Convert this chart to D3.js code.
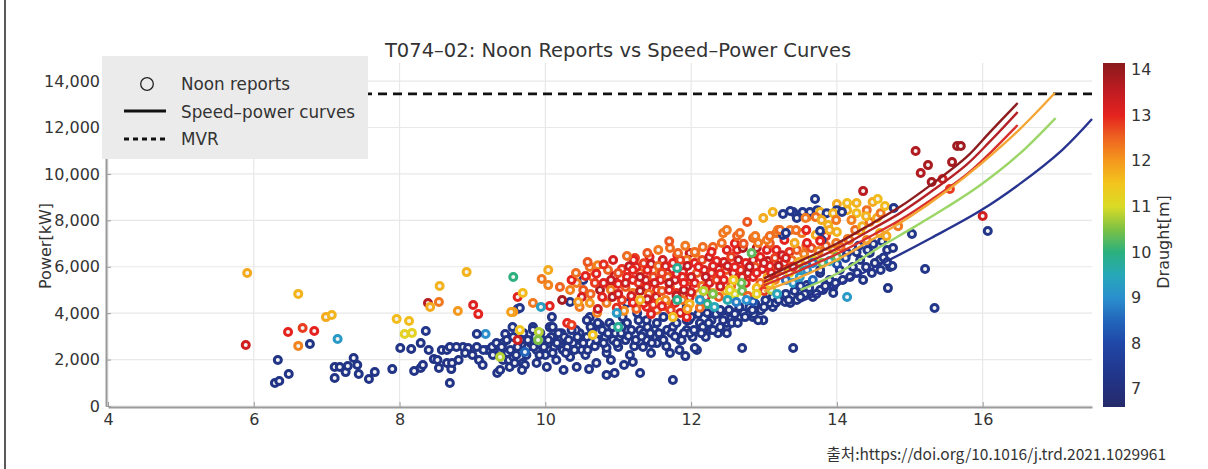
<!DOCTYPE html>
<html><head><meta charset="utf-8">
<script src="https://cdn.jsdelivr.net/npm/d3@7"></script>
<style>
body{margin:0;background:#fff;}
svg{display:block;}
text{font-family:"DejaVu Sans","Noto Sans CJK KR",sans-serif;fill:#333;}
</style>
</head><body>
<svg id="chart" width="1208" height="469"></svg>
<script>
// ---------- DATA ----------
const chartTitle = "T074\u201302: Noon Reports vs Speed\u2013Power Curves";
const xTicks = [4, 6, 8, 10, 12, 14, 16];
const yTicks = [0, 2000, 4000, 6000, 8000, 10000, 12000, 14000];
const draughtTicks = [7, 8, 9, 10, 11, 12, 13, 14];
const mvrPower = 13450;
const sourceText = "출처:https://doi.org/10.1016/j.trd.2021.1029961";

// speed-power curves: [speed (kn), power (kW)], one per draught
const curveDraughts = [14, 13.5, 13, 12, 10.5, 7.5];
const curveD14 = [[13.0,5500],[13.5,6250],[14.0,7000],[14.5,7900],[14.86,8570],[15.3,9550],[15.78,10730],[16.1,11800],[16.48,13055]];
const curveD135 = [[13.0,5350],[13.5,6050],[14.0,6780],[14.5,7650],[14.86,8300],[15.3,9250],[15.78,10400],[16.1,11400],[16.48,12667]];
const curveD13 = [[13.0,5200],[13.5,5850],[14.0,6550],[14.5,7380],[14.86,8000],[15.3,8900],[15.78,9980],[16.1,10900],[16.48,12107]];
const curveD12 = [[13.0,4950],[13.5,5550],[14.0,6300],[14.59,7370],[15.0,8150],[15.5,9250],[16.0,10500],[16.5,11900],[16.99,13486]];
const curveD105 = [[13.5,5000],[14.0,5700],[14.59,6850],[15.0,7600],[15.5,8550],[15.96,9500],[16.5,10850],[17.0,12408]];
const curveD75 = [[13.5,4500],[14.0,5200],[14.69,6250],[15.3,7250],[15.96,8400],[16.5,9550],[17.09,11030],[17.5,12365]];

// noon reports: [speed (kn), power (kW), draught (m)]
const reportsLowSpeed = [
[5.91,5730,11.8],[5.89,2630,13.3],[6.61,4830,11.7],[6.47,3190,13.0],[6.61,2590,12.2],[6.67,3360,12.8],[6.83,3230,13.0],[6.99,3830,11.8],[7.07,3920,11.7],[7.15,2890,9.2],[6.77,2670,7.2],
[6.33,1980,7.2],[6.29,990,7.2],[6.35,1080,7.2],[6.48,1380,7.2],[7.11,1680,7.2],[7.18,1680,7.2],[7.26,1460,7.2],[7.29,1720,7.2],[7.37,2070,7.2],[7.42,1770,7.2],[7.11,1210,7.2],[7.44,1380,7.2],[7.58,1160,7.2],[7.66,1460,7.2],[7.90,1590,7.2],
[7.96,3750,11.6],[8.13,3660,11.6],[8.07,3100,11.2],[8.17,3150,11.2],[8.36,3230,7.3],[8.01,2500,7.2],[8.16,2460,7.2],[8.29,2710,7.2],[8.40,2410,7.2],[8.20,1510,7.2],[8.29,1640,7.2],[8.32,1770,7.2],[8.47,2020,7.2],[8.52,1980,7.2],[8.54,1640,7.2],[8.65,1850,7.2],[8.69,990,7.2],[8.71,1590,7.2],[8.58,2410,7.2],
[8.39,4440,13.6],[8.42,4270,11.8],[8.54,4480,12.3],[8.55,5170,11.7],[8.92,5770,11.7],[8.80,4090,12.0],[9.01,4350,13.1],[9.08,3960,13.0],[9.18,3100,9.0],[9.06,3100,7.3],
[8.65,2410,7.2],[8.69,2540,7.2],[8.72,1850,7.2],[8.81,1980,7.2],[8.87,2540,7.2],[8.94,2500,7.2],[9.06,2540,7.2],[9.09,1980,7.2],[9.14,1770,7.2],[9.20,2410,7.2],[9.27,2540,7.2],[9.00,2200,7.2],[8.90,2280,7.2],[8.78,2540,7.2],[9.15,2410,7.3],[9.28,2200,7.2]
];
const reportsBlueBand = [
[9.34,1420,7.2],[9.38,2410,7.2],[9.42,1980,7.2],[9.50,1980,7.2],[9.56,2110,7.2],[9.65,2410,7.2],[9.69,1850,7.2],[9.76,2540,7.2],[9.38,1550,7.2],[9.51,1680,7.2],[9.72,1770,7.2],[9.88,1850,7.2],[10.02,1680,7.2],[10.06,2410,7.2],[10.06,3400,7.2],[10.23,2840,7.2],[10.24,2410,7.2],[10.43,1680,7.2],[10.50,2410,7.2],[10.57,2970,7.2],[10.61,3830,7.2],[10.75,3490,7.2],[10.75,2840,7.2],[10.84,2280,7.2],[10.93,2840,7.2],[11.06,3830,7.2],[10.84,1340,7.2],[10.95,1420,7.2],[11.08,1770,7.2],[11.16,2200,7.2],[11.30,1420,7.2],[11.34,2540,7.2],[11.43,2970,7.2],[11.53,3580,7.2],[11.67,3270,7.2],[11.71,2280,7.2],[11.75,1120,7.2],[11.85,2840,7.2],[11.94,3270,7.2],[12.02,2970,7.2],[12.08,2410,7.2],
[9.42,2710,7.2],[9.56,2970,7.2],[9.83,3400,7.2],[9.93,3140,7.2],[10.10,3400,7.2],[10.20,2840,7.2],[10.30,2540,7.2],[10.34,2110,7.2],[10.47,3140,7.2],[10.57,3700,7.2],[10.65,3360,7.2],[10.84,2500,7.2],[11.02,2970,7.2],[11.12,3580,7.2],[11.26,4010,7.2],[11.30,3270,7.2],[11.39,2840,7.2],[11.53,2710,7.2],[11.75,3400,7.2],[11.87,2840,7.2],[11.94,3700,7.2],[12.05,2500,7.2],[12.12,3580,7.2],[12.26,3270,7.2],[12.37,3140,7.2],[12.49,3400,7.2],[12.22,4010,7.2],[12.57,4010,7.2],[12.70,2500,7.2],[12.85,3830,7.2],[12.99,3700,7.2],[13.12,4270,7.2],[13.29,4480,7.2],[13.40,2500,7.2],[13.49,4870,7.2],[13.67,4700,7.2],[13.81,5000,7.2],[13.95,5130,7.2],
[14.70,5080,7.2],[13.95,4870,7.2],[13.77,5000,7.2],[13.59,5210,7.2],[13.45,4570,7.2],[13.36,4440,7.2],[13.22,4700,7.2],[13.08,4440,7.2],[12.94,4140,7.2],[12.92,3700,7.2],[12.78,4010,7.2],[12.67,3830,7.2],[12.49,3580,7.2],[12.30,3270,7.2],[11.98,3140,7.2],[12.49,3140,7.2],[13.77,5730,7.2],[13.90,5430,7.2],[14.04,5860,7.2],[14.22,5990,7.2],[14.32,6290,7.2],[14.36,5430,7.2],[14.27,6630,7.2],[14.14,6590,7.2],[14.45,6590,7.2],[14.69,6720,7.2],[14.77,6810,7.2],[14.59,6290,7.2],[14.73,5990,7.2],[14.48,5730,7.2],[13.77,5860,7.3],
[9.80,2710,7.2],[9.88,2410,7.3],[9.95,2840,7.2],[10.00,2200,7.3],[10.08,2970,7.2],[10.12,2540,7.2],[10.15,1980,7.3],[10.22,3140,7.2],[10.28,2280,7.2],[10.38,2710,7.3],[10.42,3270,7.2],[10.48,2840,7.2],[10.55,2200,7.3],[10.62,3400,7.2],[10.68,2580,7.2],[10.70,1850,7.2],[10.78,3270,7.3],[10.82,2970,7.2],[10.88,3580,7.2],[10.96,3140,7.2],[11.00,2540,7.3],[11.05,3400,7.2],[11.10,2840,7.2],[11.18,3270,7.2],[11.22,2580,7.2],[11.28,3700,7.3],[11.35,3140,7.2],[11.40,3400,7.2],[11.46,2710,7.2],[11.50,3270,7.3],[11.58,2970,7.2],[11.62,3830,7.2],[11.66,2580,7.2],[11.73,3140,7.2],[11.80,3580,7.3],[11.84,2410,7.2],[11.90,3140,7.2],[11.97,3700,7.2],[12.04,3270,7.3],[12.10,3960,7.2],[12.16,3400,7.2],[12.20,2970,7.2],[12.28,3700,7.2],[12.34,3960,7.3],[12.40,3400,7.2],[12.46,3830,7.2],[12.52,4140,7.2],[12.56,3580,7.3],[12.60,3960,7.2],[12.66,4270,7.2],[12.72,4010,7.2],[12.80,4270,7.3],[12.86,3960,7.2],[12.88,4400,7.2],[12.96,4140,7.2],[13.02,4570,7.3],[13.12,4700,7.2],[13.16,4440,7.2],[13.30,4830,7.3],[13.34,4570,7.2],[13.42,4960,7.2],[13.56,4830,7.2],[13.62,5080,7.3],[13.72,4830,7.2],[13.84,5170,7.2],[13.98,5300,7.3],[14.08,5430,7.2],[14.18,5560,7.2],[14.28,5730,7.3],[14.40,5990,7.2],[14.52,6160,7.2],[14.60,5860,7.3],
[9.45,3100,7.2],[9.55,3400,7.3],[9.62,2540,7.2],[9.70,3140,7.2],[9.76,2840,7.2],[9.33,2710,7.2],[9.48,2280,7.2],[9.58,1850,7.2],[9.68,1550,7.2],[10.25,1550,7.2],[10.60,1590,7.3],[10.90,1980,7.2],[11.20,1900,7.2],[11.45,2280,7.2],[11.92,2150,7.2],
[9.62,4180,7.2],[10.09,3830,7.2],[9.83,3270,7.2],[9.47,2840,7.2],[9.65,4220,7.3],[10.34,4480,7.3],[10.52,5430,7.3],[11.12,4440,7.3],[11.39,3700,7.2],[12.40,4140,7.2],[12.00,3830,7.2],[11.94,4270,7.2],[14.30,6900,7.4],[14.42,6720,7.3],[14.50,6980,7.3],[14.62,7100,7.3],[14.12,6380,7.8],[14.00,6120,8.0],
[9.40,2540,7.2],[9.52,2410,7.2],[9.60,2200,7.2],[9.66,2840,7.2],[9.74,2200,7.2],[9.84,2540,7.2],[9.86,2970,7.2],[9.92,2200,7.2],[9.98,2540,7.2],[10.04,2840,7.2],[10.10,2280,7.2],[10.16,2710,7.2],[10.18,3140,7.2],[10.26,2970,7.2],[10.32,2840,7.2],[10.36,3270,7.2],[10.40,2410,7.2],[10.44,2970,7.2],[10.52,2710,7.2],[10.58,2410,7.2],[10.64,3140,7.2],[10.70,2840,7.2],[10.72,3580,7.2],[10.80,2710,7.2],[10.86,3140,7.2],[10.92,3400,7.2],[10.98,2710,7.2],[11.04,3140,7.2],[11.14,3020,7.2],[11.24,2840,7.2],[11.32,3000,7.2],[11.44,3140,7.2],[11.56,3140,7.2],[11.62,2840,7.2],[11.78,3000,7.2],[12.14,3140,7.2],[12.24,3580,7.2],[12.44,3700,7.2],[12.64,3580,7.2],[12.74,3830,7.2],[12.84,4140,7.2],[13.00,4270,7.2],[13.20,4570,7.2],[13.50,4700,7.2]
];
const reportsCore = [
[10.61,5990,12.4],[10.72,6070,12.2],[10.93,6290,13.2],[11.23,6380,12.8],[11.43,6420,13.0],[11.61,6290,13.3],[11.81,6500,13.0],[11.98,6590,13.4],[11.71,6810,12.4],[10.65,5560,12.5],[10.43,5300,12.3],[10.52,5000,12.6],[10.34,5000,12.2],[10.75,5000,13.8],[10.89,5130,13.1],[11.12,5560,13.0],[11.30,5730,12.4],[11.48,5860,12.2],[11.67,5730,13.2],[11.89,5770,13.0],[11.39,5130,13.1],[11.53,5000,12.9],[11.71,5130,12.5],[11.94,5130,13.4],[11.20,4870,12.3],[10.84,4440,12.3],[10.61,4440,12.0],[10.47,4270,12.3],[10.71,4010,12.2],[11.39,4270,13.0],[11.53,4140,12.4],[11.67,4270,12.3],[11.98,4700,13.1],[11.94,3830,13.0],
[9.95,5470,12.3],[10.04,5210,12.2],[9.62,4700,13.0],[9.83,4440,12.3],[10.06,4310,13.0],[10.23,4570,13.8],[9.56,4050,12.0],[10.20,5130,12.5],[10.36,5430,13.0],[9.62,2840,13.3],[10.30,3580,13.0],[10.36,3490,12.8],
[11.21,6290,13.0],[11.94,6290,12.3],[12.06,6590,12.2],[12.16,6850,12.4],[12.30,6850,12.5],[12.49,6720,13.1],[12.63,6720,13.0],[12.71,6810,13.7],[12.90,6810,13.6],[13.04,6720,13.1],[13.17,6720,13.0],[13.17,7450,12.4],
[10.42,5730,12.4],[10.55,5600,13.0],[10.68,5300,12.8],[10.50,4700,13.2],[10.62,4830,12.5],[10.78,4700,13.0],[10.45,4480,12.0],[10.72,4180,13.4],[10.80,5300,13.1],[10.58,6200,12.6],
[10.86,5860,12.5],[10.95,5600,13.3],[11.05,5900,12.9],[11.15,6020,13.5],[10.90,5000,12.3],[11.00,5260,13.0],[11.10,5130,12.6],[11.18,4740,13.2],[11.05,4570,12.8],[10.92,4700,13.6],[11.08,4100,12.1],[11.20,5430,13.0],[11.12,6460,12.4],[10.98,4230,12.9],
[11.25,5990,13.1],[11.35,6150,12.8],[11.45,6120,13.4],[11.55,6030,12.5],[11.28,5300,12.9],[11.38,5430,13.3],[11.48,5560,12.7],[11.58,5430,13.0],[11.30,4960,13.6],[11.42,4830,12.4],[11.52,4700,13.2],[11.60,4960,12.6],[11.35,4430,13.0],[11.48,4360,12.9],[11.58,4480,11.8],[11.25,4180,12.5],[11.45,3960,13.1],[11.55,6720,12.3],[11.40,6590,12.6],
[11.65,6020,13.2],[11.75,6160,13.0],[11.85,6290,12.8],[11.95,6030,13.5],[11.68,5560,12.6],[11.78,5430,13.3],[11.88,5560,13.0],[11.98,5430,12.5],[11.70,5000,13.1],[11.80,4870,12.9],[11.90,5000,13.6],[11.65,4570,12.2],[11.78,4440,13.0],[11.88,4570,12.4],[11.98,4400,11.7],[11.72,4140,12.8],[11.85,4010,13.2],[11.95,4180,12.0],[11.82,6590,12.5],[11.92,6900,12.3],[11.70,7100,12.6],
[12.05,6160,13.1],[12.15,6290,12.7],[12.25,6420,13.4],[12.35,6250,13.0],[12.08,5730,12.6],[12.18,5860,13.2],[12.28,5730,12.9],[12.38,5900,13.5],[12.05,5300,13.0],[12.15,5170,12.4],[12.25,5300,13.3],[12.35,5430,12.8],[12.10,4830,12.2],[12.20,4700,13.0],[12.30,4870,11.9],[12.38,4700,12.6],[12.22,4400,10.0],[12.32,4270,9.5],[12.12,4230,12.4],[12.05,6640,12.4],[12.28,6640,13.0],
[12.45,6200,13.2],[12.55,6420,12.8],[12.65,6290,13.5],[12.75,6160,13.0],[12.48,5860,12.6],[12.58,5730,13.3],[12.68,5860,12.9],[12.78,5730,13.6],[12.45,5430,13.0],[12.55,5170,12.4],[12.65,5430,12.2],[12.75,5300,13.1],[12.48,4960,11.8],[12.60,4830,11.0],[12.70,4960,10.4],[12.78,4740,12.5],[12.50,4570,9.6],[12.62,4480,8.8],[12.42,7020,12.4],[12.60,7000,13.0],[12.72,6990,12.6],
[12.85,6290,13.3],[12.95,6420,13.0],[13.05,6250,13.6],[13.15,6380,12.8],[12.88,5990,12.6],[12.98,5900,13.2],[13.08,6030,13.0],[13.18,5860,12.4],[12.85,5560,13.1],[12.95,5300,12.5],[13.05,5560,11.9],[13.15,5430,12.2],[12.90,5080,11.6],[13.00,4960,12.8],[13.10,5000,10.8],[13.18,4830,9.4],[12.92,7020,12.3],[13.08,7000,12.6],[12.85,4500,8.2],
[13.25,6500,13.4],[13.35,6640,12.9],[13.45,6720,12.6],[13.55,6550,12.3],[13.28,6160,13.0],[13.38,6290,12.4],[13.48,6200,11.8],[13.58,6290,12.0],[13.25,5860,12.5],[13.35,5730,11.3],[13.45,5900,10.6],[13.55,5820,9.8],[13.30,5430,8.6],[13.40,5300,9.2],[13.50,5170,7.6],[13.58,6900,12.4],[13.42,7020,11.8],[13.28,7150,13.0],
[13.65,6810,12.7],[13.75,6680,12.2],[13.85,6900,12.5],[13.95,6720,11.9],[14.05,6860,12.4],[13.68,6290,11.2],[13.80,6160,10.5],[13.90,6250,9.6],[14.15,7200,12.3],[14.00,7500,11.7],[13.85,7320,12.8],
[10.70,5700,13.0],[10.80,6100,12.9],[10.90,5430,13.4],[11.00,5730,12.7],[11.10,5300,13.3],[11.20,5860,13.0],[11.30,5560,13.5],[11.40,5860,13.0],[11.50,5300,13.2],[11.60,5730,12.8],[11.70,5300,13.6],[11.80,5700,13.1],[11.90,5300,13.0],[12.00,5560,13.3],[12.10,5990,13.0],[12.20,5560,13.5],[12.30,6030,13.1],[12.40,5700,13.0],[12.50,6030,13.4],[12.60,5990,13.0],[12.70,5560,13.2],[12.80,6000,13.5],[12.90,5730,13.0],[13.00,6160,13.3],[13.10,5730,13.0],[13.20,6030,13.6],[13.30,6380,13.2],[13.40,6000,13.0],[11.00,4830,13.3],[11.20,4450,13.0],[11.40,4600,13.4],[11.60,4300,13.0],[11.80,4750,13.5],[12.00,4900,13.2],[12.20,5050,13.0],[12.40,5150,13.3]
];
const reportsAccent = [
[9.56,5560,10.0],[9.69,4870,11.6],[9.94,4270,9.3],[10.04,5860,11.8],[9.53,4050,11.9],[9.72,2330,8.5],
[9.65,3270,11.5],[9.91,3190,10.8],[9.90,2840,10.5],[9.38,2110,10.8],[10.65,3060,11.5],[11.00,3400,9.8],[10.98,4010,9.2],[11.30,4570,11.7],[11.81,4570,9.9],[11.75,3830,11.6],[11.81,5950,9.8],[12.83,6590,10.3],[12.12,4570,9.2],[12.30,4830,10.5],[12.53,5000,11.2],[12.69,5300,10.4],[12.76,4570,9.0],[12.90,4830,11.3],[12.58,5430,11.5],[12.17,4960,10.8],[13.08,5260,11.5],[13.67,5430,8.5],[13.49,5560,9.2],[14.00,6420,10.3],[13.59,5860,9.0],[13.67,6160,8.8],[14.14,4700,9.2]
];
const reportsUpper = [
[12.44,7450,12.3],[12.63,7320,12.5],[12.77,7930,12.6],[12.99,8100,11.8],[12.85,7240,12.4],[13.04,7150,12.3],[13.12,8360,11.7],[13.26,8270,7.3],[13.40,8360,7.3],[13.53,8360,7.3],[13.70,8920,7.3],[13.73,8440,7.3],[14.00,8700,11.8],[14.00,8440,7.3],[13.59,8140,12.3],[13.19,7580,12.3],[13.36,7580,12.3],[13.26,7370,7.3],[13.52,7450,12.3],[13.59,7020,13.0],[13.79,7150,7.3],
[14.36,9260,13.6],[14.14,8750,11.6],[14.27,8750,11.7],[14.49,8790,11.8],[14.56,8920,11.6],[14.41,8440,12.4],[14.14,8440,11.7],[14.27,8310,11.6],[13.36,8400,7.3],[13.63,8360,7.3],[13.77,8360,11.7],[13.86,8310,7.3],[13.95,8310,11.7],[14.07,8360,7.3],[13.45,8100,7.3],[13.57,8100,12.3],[13.71,8140,12.4],[13.79,8010,11.8],[13.88,7800,11.7],[13.99,8010,12.3],[12.49,7580,12.3],[12.67,7450,12.4],[12.88,7320,12.3],[13.08,7320,12.4],[13.22,7580,12.4],[13.30,7450,7.3],[13.44,7580,12.4],[13.58,7580,13.0],[13.71,7370,11.8],[13.77,7540,7.3],[13.90,7580,11.8],[13.77,7110,13.0],[13.99,7020,12.3],[14.17,7150,12.3],[14.32,7540,11.7],[14.41,7150,12.2],[14.59,7450,11.7],[14.68,7320,11.8],
[14.25,7580,12.4],[14.35,7750,11.7],[14.45,7930,12.3],[14.55,8100,11.8],[14.20,8010,12.2],[14.40,8180,11.7],[14.60,8310,12.3],[14.66,8620,11.6]
];
const reportsHighSpeed = [
[15.08,10990,13.7],[15.25,10380,13.8],[15.15,10040,13.7],[15.58,10510,13.8],[15.30,9650,13.8],[15.45,9780,13.3],[15.55,9350,12.8],[15.65,11200,13.9],[15.70,11200,13.9],[14.78,8530,7.3],[14.84,7750,12.3],[15.03,7410,7.3],[14.64,6400,7.3],[14.76,6030,7.3],[15.21,5900,7.3],[15.34,4220,7.3],[16.00,8190,13.3],[16.07,7540,7.3],[14.69,6200,7.3]
];

// colour map stops (draught -> colour)
const cmapStops = [6.6, 7.0, 7.5, 8.0, 8.5, 9.0, 9.5, 10.0, 10.5, 11.0, 11.5, 12.0, 12.5, 13.0, 13.5, 14.0, 14.15];
const cmapColors = ["#262a6a","#23307e","#213a92","#2048a8","#2266bb","#2b8fce","#27a8b8","#2bb07e","#7dc144","#dadb26","#f2c51d","#f5981e","#ee6420","#e4231f","#c21c22","#971a1d","#8a1a1c"];
const curveColors = ["#8e1c1e","#b42126","#d8302c","#f4a634","#9cd667","#27348f"];

// ---------- DRAW ----------
const svg = d3.select("#chart");
const x = d3.scaleLinear().domain([4, 17.5]).range([108, 1092]);
const y = d3.scaleLinear().domain([0, 14780]).range([406, 63]);
const cScale = d3.scaleLinear().domain(cmapStops).range(cmapColors).interpolate(d3.interpolateRgb).clamp(true);

// left frame edge
svg.append("line").attr("x1",5).attr("x2",5).attr("y1",0).attr("y2",469).attr("stroke","#222").attr("stroke-width",1.5);

// grid
const grid = svg.append("g");
grid.selectAll(".gy").data(yTicks).join("line")
  .attr("x1", x(4)).attr("x2", x(17.5)).attr("y1", d=>y(d)).attr("y2", d=>y(d))
  .attr("stroke","#e8e8e8").attr("stroke-width",1.2);
grid.selectAll(".gx").data(xTicks).join("line")
  .attr("x1", d=>x(d)).attr("x2", d=>x(d)).attr("y1", y(14780)).attr("y2", y(0))
  .attr("stroke","#e8e8e8").attr("stroke-width",1.2);

// MVR
svg.append("line").attr("x1", x(4)).attr("x2", x(17.5)).attr("y1", y(mvrPower)).attr("y2", y(mvrPower))
  .attr("stroke","#111").attr("stroke-width",2.6).attr("stroke-dasharray","9,6");

// scatter
const allReports = [].concat(reportsLowSpeed, reportsBlueBand, reportsCore, reportsAccent, reportsUpper, reportsHighSpeed);
svg.append("g").selectAll("circle").data(allReports).join("circle")
  .attr("cx", d=>x(d[0])).attr("cy", d=>y(d[1])).attr("r", 3.5)
  .attr("fill", "#f3f3f3").attr("stroke", d=>cScale(d[2])).attr("stroke-width", 3);

// curves
const curves = [curveD14, curveD135, curveD13, curveD12, curveD105, curveD75];
const line = d3.line().x(d=>x(d[0])).y(d=>y(d[1])).curve(d3.curveCatmullRom.alpha(0.5));
svg.append("g").selectAll("path").data(curves).join("path")
  .attr("d", line).attr("fill","none")
  .attr("stroke", (d,i)=>curveColors[i]).attr("stroke-width", 2.4);

// axes
const yAxis = d3.axisLeft(y).tickValues(yTicks).tickFormat(d3.format(",")).tickSizeInner(-5).tickSizeOuter(0).tickPadding(6);
const gy = svg.append("g").attr("transform","translate(106,0)").call(yAxis);
gy.select(".domain").attr("stroke","#9a9a9a").attr("stroke-width",2);
gy.selectAll(".tick line").attr("stroke","#9a9a9a");
gy.selectAll("text").style("font-size","16px").attr("fill","#333");

const xAxis = d3.axisBottom(x).tickValues(xTicks).tickSizeInner(-5).tickSizeOuter(0).tickPadding(7);
const gx = svg.append("g").attr("transform","translate(0,407)").call(xAxis);
gx.select(".domain").attr("stroke","#9a9a9a").attr("stroke-width",2);
gx.selectAll(".tick line").attr("stroke","#9a9a9a");
gx.selectAll("text").style("font-size","16px").attr("fill","#333");

// axis title
svg.append("text").attr("transform","translate(45,246) rotate(-90)").attr("text-anchor","middle")
  .attr("dominant-baseline","central").style("font-size","16px").text("Power[kW]");

// title
svg.append("text").attr("x", 618).attr("y", 50).attr("text-anchor","middle").attr("dominant-baseline","central")
  .style("font-size","19.5px").attr("fill","#222").text(chartTitle);

// legend
const lg = svg.append("g");
lg.append("rect").attr("x",102).attr("y",56).attr("width",266).attr("height",103).attr("fill","#ebebeb");
lg.append("circle").attr("cx",147).attr("cy",84).attr("r",6.3).attr("fill","none").attr("stroke","#222").attr("stroke-width",1.3);
lg.append("line").attr("x1",124).attr("x2",166).attr("y1",111).attr("y2",111).attr("stroke","#111").attr("stroke-width",3);
lg.append("line").attr("x1",124).attr("x2",166).attr("y1",139).attr("y2",139).attr("stroke","#111").attr("stroke-width",3).attr("stroke-dasharray","5,4");
const legendLabels = ["Noon reports", "Speed\u2013power curves", "MVR"];
lg.selectAll("text.lt").data(legendLabels).join("text")
  .attr("x",181).attr("y",(d,i)=>84 + i*27.5).attr("dominant-baseline","central")
  .style("font-size","16.8px").attr("fill","#222").text(d=>d);

// colour bar
const cb = d3.scaleLinear().domain([6.6, 14.15]).range([407, 63]);
const defs = svg.append("defs");
const grad = defs.append("linearGradient").attr("id","cbar").attr("x1",0).attr("x2",0).attr("y1",1).attr("y2",0);
grad.selectAll("stop").data(cmapStops).join("stop")
  .attr("offset", d=>(d-6.6)/(14.15-6.6)).attr("stop-color", (d,i)=>cmapColors[i]);
svg.append("rect").attr("x",1103).attr("y",63).attr("width",22).attr("height",344).attr("fill","url(#cbar)");
svg.append("g").selectAll("text").data(draughtTicks).join("text")
  .attr("x",1131).attr("y", d=>cb(d)).attr("dominant-baseline","central")
  .style("font-size","16px").attr("fill","#333").text(d=>d);
svg.append("text").attr("transform","translate(1163,242) rotate(-90)").attr("text-anchor","middle")
  .attr("dominant-baseline","central").style("font-size","16px").text("Draught[m]");

// source
svg.append("text").attr("x",1166).attr("y",453).attr("text-anchor","end").attr("dominant-baseline","central")
  .style("font-size","15.5px").style("font-family","'Noto Sans CJK KR',sans-serif").attr("fill","#333").text(sourceText);
</script>
</body></html>
